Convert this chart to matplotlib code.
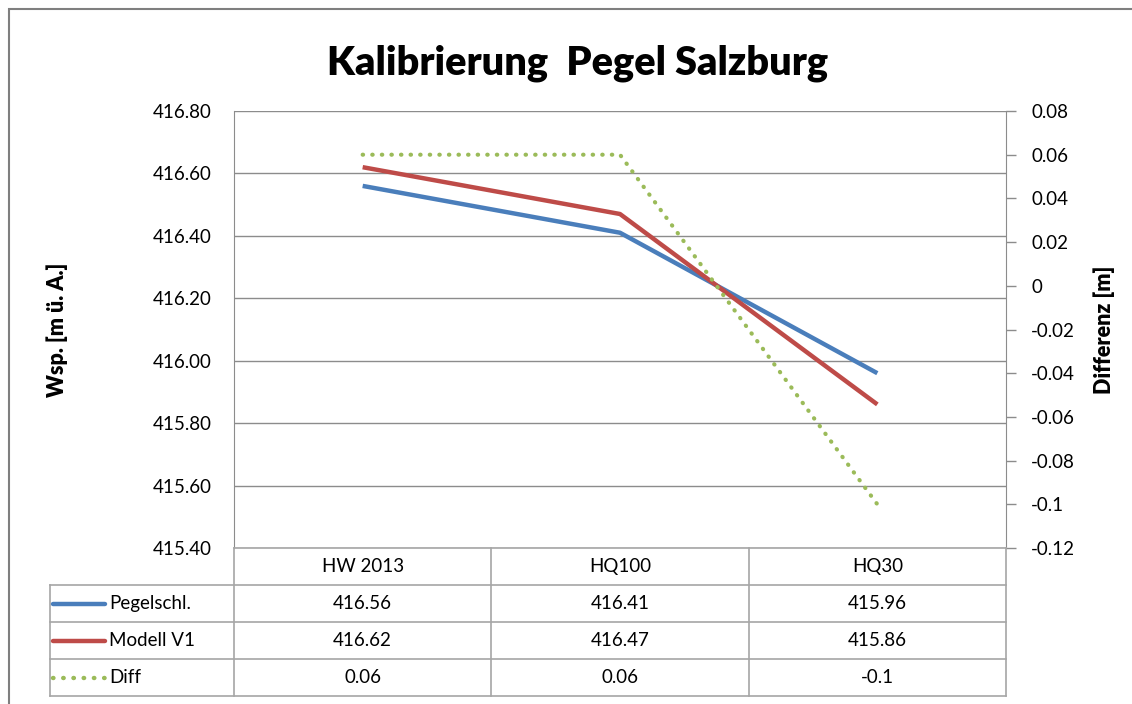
import numpy as np
import matplotlib
matplotlib.use("Agg")
import matplotlib.pyplot as plt
from matplotlib.patches import Rectangle
from matplotlib.ticker import MultipleLocator, FuncFormatter

plt.rcParams['font.family'] = ['Lato', 'DejaVu Sans']

# Daten
kategorien = ["HW 2013", "HQ100", "HQ30"]
pegelschl = [416.56, 416.41, 415.96]
modell_v1 = [416.62, 416.47, 415.86]
diff = [0.06, 0.06, -0.1]
serien_namen = ["Pegelschl.", "Modell V1", "Diff"]

BLAU = "#4A7EBB"
ROT = "#BE4B48"
GRUEN = "#9BBB59"
GITTER = "#8C8C8C"
TABELLE = "#A6A6A6"

W, H = 1132, 704
fig = plt.figure(figsize=(W / 100, H / 100), dpi=100)


def fx(px):
    return px / W


def fy(py):
    return 1 - py / H


# Rahmen um das Diagramm
fig.add_artist(Rectangle((fx(9), fy(1000)), fx(1200), fy(9) - fy(1000),
                         transform=fig.transFigure, fill=False,
                         edgecolor="#7F7F7F", lw=1.5))

# Plotbereich
links, rechts, oben, unten = 234, 1006, 111, 548
ax = fig.add_axes([fx(links), fy(unten), fx(rechts) - fx(links), fy(oben) - fy(unten)])
x = np.arange(len(kategorien)) + 0.5

ax.plot(x, pegelschl, color=BLAU, lw=3.2, solid_capstyle="butt", zorder=3)
ax.plot(x, modell_v1, color=ROT, lw=3.2, solid_capstyle="butt", zorder=3)
ax.set_xlim(0, len(kategorien))
ax.set_ylim(415.4, 416.8)
ax.yaxis.set_major_locator(MultipleLocator(0.2))
ax.yaxis.set_major_formatter(FuncFormatter(lambda v, p: f"{v:.2f}"))
ax.grid(axis="y", color=GITTER, lw=1)
ax.set_xticks([])
ax.tick_params(axis="y", length=0, pad=16, labelsize=13.5)
for s in ["top", "right", "bottom"]:
    ax.spines[s].set_visible(False)
ax.spines["left"].set_color(GITTER)
ax.set_ylabel("Wsp. [m ü. A.]", fontsize=15.5, fontweight="heavy")
ax.yaxis.set_label_coords((68 - links) / (rechts - links), 0.5)

ax2 = ax.twinx()
ax2.plot(x, diff, color=GRUEN, lw=3, linestyle=(0, (0.1, 2.2)),
         dash_capstyle="round", zorder=3)
ax2.set_ylim(-0.12, 0.08)
ax2.yaxis.set_major_locator(MultipleLocator(0.02))


def general(v, p):
    v = round(v, 2)
    if v == 0:
        return "0"
    return f"{v:g}"


ax2.yaxis.set_major_formatter(FuncFormatter(general))
ax2.tick_params(axis="y", direction="out", length=7, width=1, color=GITTER,
                pad=11, labelsize=13.5)
for s in ["top", "left", "bottom"]:
    ax2.spines[s].set_visible(False)
ax2.spines["right"].set_color(GITTER)
ax2.set_ylabel("Differenz [m]", fontsize=15.5, fontweight="heavy", rotation=90)
ax2.yaxis.set_label_coords((1093 - links) / (rechts - links), 0.5)

fig.suptitle("Kalibrierung  Pegel Salzburg", fontsize=28.5, fontweight="heavy",
             x=fx(578), y=fy(63), va="center")

# Datentabelle
t_links, t_unten = 50, 696
spalte = (rechts - links) / len(kategorien)
lx = -(links - t_links) / spalte
n = len(kategorien)
axt = fig.add_axes([fx(t_links), fy(t_unten), fx(rechts) - fx(t_links), fy(unten) - fy(t_unten)])
axt.set_xlim(lx, n)
axt.set_ylim(0, 4)
axt.axis("off")

kw = dict(color=TABELLE, lw=1.2, clip_on=False)
axt.plot([0, n], [4, 4], **kw)
for yy in [3, 2, 1, 0]:
    axt.plot([lx, n], [yy, yy], **kw)
for xx in range(n + 1):
    axt.plot([xx, xx], [0, 4], **kw)
axt.plot([lx, lx], [0, 3], **kw)

fs = 13.5
for i, k in enumerate(kategorien):
    axt.text(i + 0.5, 3.5, k, ha="center", va="center", fontsize=fs)

werte = [pegelschl, modell_v1, diff]
farben = [BLAU, ROT, GRUEN]
stile = ["-", "-", (0, (0.1, 2.2))]
for r, (name, vals, c, ls) in enumerate(zip(serien_namen, werte, farben, stile)):
    yy = 2.5 - r
    k0 = lx + 3 / spalte
    k1 = lx + 55 / spalte
    axt.plot([k0, k1], [yy, yy], color=c, lw=3.2, linestyle=ls,
             dash_capstyle="round", solid_capstyle="round")
    axt.text(lx + 59 / spalte, yy, name, ha="left", va="center", fontsize=fs)
    for i, v in enumerate(vals):
        txt = f"{v:.2f}" if abs(v) > 1 else f"{v:g}"
        axt.text(i + 0.5, yy, txt, ha="center", va="center", fontsize=fs)

fig.savefig("out.png", dpi=100)
